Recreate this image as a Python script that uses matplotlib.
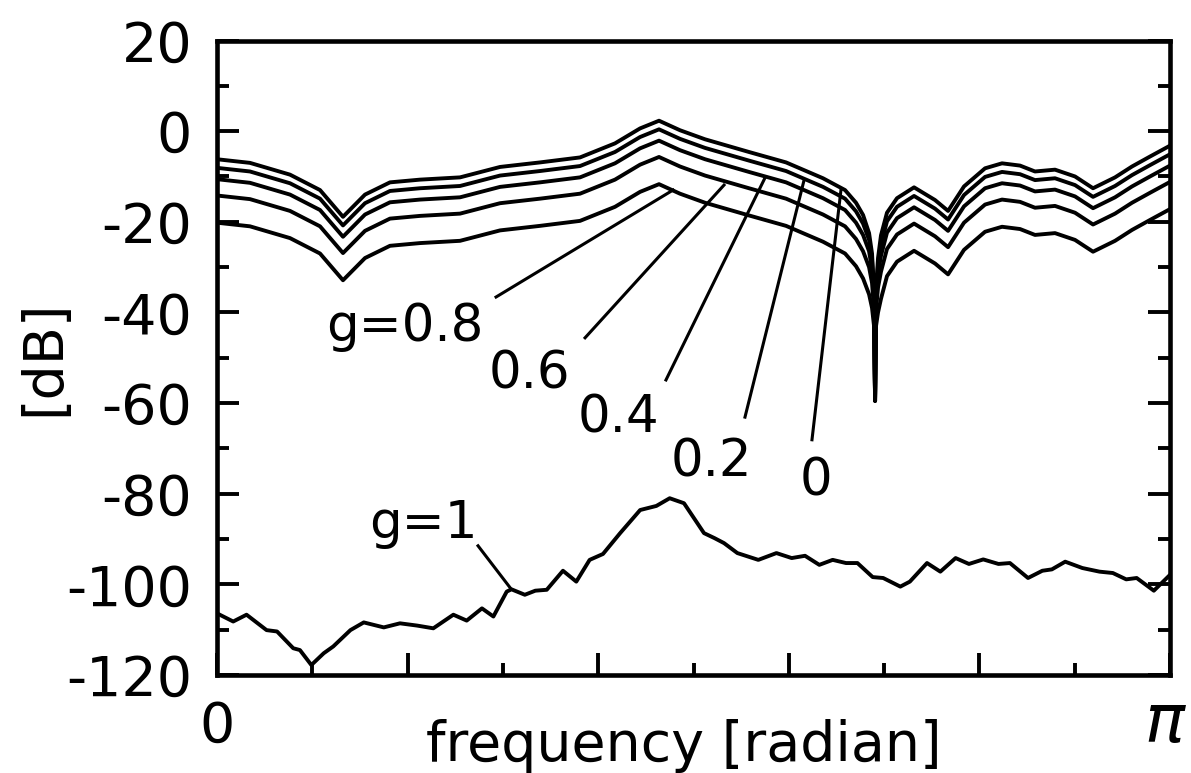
import numpy as np
import matplotlib
matplotlib.use('Agg')
import matplotlib.pyplot as plt
from matplotlib.ticker import MultipleLocator, FixedLocator
import matplotlib.transforms as mtransforms

plt.rcParams['font.family'] = ['DejaVu Sans']
plt.rcParams['axes.unicode_minus'] = False

# ---------------- data (frequency as fraction of pi, level in dB) ----------------
freq_upper = [0.0, 0.0346, 0.0766, 0.1081, 0.1322, 0.1553, 0.1815, 0.2130, 0.2550, 0.2970,
              0.3389, 0.3809, 0.4176, 0.4439, 0.4638, 0.4858, 0.5121, 0.5582, 0.5971, 0.6359,
              0.6590, 0.6705, 0.6779, 0.6842, 0.6873, 0.6894, 0.6905, 0.6915, 0.6936, 0.6967,
              0.7030, 0.7135, 0.7314, 0.7534, 0.7671, 0.7838, 0.8059, 0.8237, 0.8426, 0.8583,
              0.8793, 0.9003, 0.9192, 0.9423, 0.9601, 0.9790, 1.0]

db_g00 = [-6.2, -7.0, -9.6, -13.0, -18.9, -14.0, -11.3, -10.7, -10.2, -7.9,
          -6.9, -5.8, -2.7, 0.6, 2.3, 0.2, -1.8, -4.6, -6.9, -10.4,
          -13.0, -15.8, -18.5, -22.5, -27.0, -35.0, -59.5, -35.0, -28.0, -23.0,
          -18.0, -14.8, -12.4, -15.2, -17.6, -12.2, -8.2, -7.1, -7.6, -8.9,
          -8.5, -10.0, -12.6, -10.2, -7.8, -5.6, -3.2]

db_g02 = [-8.1, -8.9, -11.5, -14.9, -20.8, -15.9, -13.2, -12.6, -12.1, -9.8,
          -8.8, -7.7, -4.6, -1.3, 0.4, -1.7, -3.7, -6.5, -8.8, -12.3,
          -14.9, -17.7, -20.4, -24.0, -28.5, -36.0, -59.5, -36.0, -29.5, -25.0,
          -19.9, -16.7, -14.3, -17.1, -19.5, -14.1, -10.1, -9.0, -9.5, -10.8,
          -10.4, -11.9, -14.5, -12.1, -9.7, -7.5, -5.1]

db_g04 = [-10.6, -11.4, -14.0, -17.4, -23.3, -18.4, -15.7, -15.1, -14.6, -12.3,
          -11.3, -10.2, -7.1, -3.8, -2.1, -4.2, -6.2, -9.0, -11.3, -14.8,
          -17.4, -20.2, -22.9, -26.5, -30.5, -37.5, -59.5, -37.5, -31.5, -27.5,
          -22.4, -19.2, -16.8, -19.6, -22.0, -16.6, -12.6, -11.5, -12.0, -13.3,
          -12.9, -14.4, -17.0, -14.6, -12.2, -10.0, -7.6]

db_g06 = [-14.2, -15.0, -17.6, -21.0, -26.9, -22.0, -19.3, -18.7, -18.2, -15.9,
          -14.9, -13.8, -10.7, -7.4, -5.7, -7.8, -9.8, -12.6, -14.9, -18.4,
          -21.0, -23.8, -26.5, -30.0, -33.5, -39.5, -59.5, -39.5, -34.5, -31.0,
          -26.0, -22.8, -20.4, -23.2, -25.6, -20.2, -16.2, -15.1, -15.6, -16.9,
          -16.5, -18.0, -20.6, -18.2, -15.8, -13.6, -11.2]

db_g08 = [-20.2, -21.0, -23.6, -27.0, -32.9, -28.0, -25.3, -24.7, -24.2, -21.9,
          -20.9, -19.8, -16.7, -13.4, -11.7, -13.8, -15.8, -18.6, -20.9, -24.4,
          -27.0, -29.8, -32.5, -36.0, -39.0, -43.0, -59.5, -43.0, -40.0, -37.0,
          -32.0, -28.8, -26.4, -29.2, -31.6, -26.2, -22.2, -21.1, -21.6, -22.9,
          -22.5, -24.0, -26.6, -24.2, -21.8, -19.6, -17.2]

freq_g1 = [0.000, 0.017, 0.031, 0.052, 0.063, 0.080, 0.087, 0.099, 0.112, 0.122,
           0.140, 0.154, 0.175, 0.192, 0.210, 0.227, 0.248, 0.262, 0.278, 0.290,
           0.304, 0.309, 0.323, 0.334, 0.346, 0.363, 0.377, 0.391, 0.405, 0.423,
           0.444, 0.461, 0.475, 0.490, 0.511, 0.522, 0.532, 0.546, 0.568, 0.587,
           0.603, 0.617, 0.632, 0.646, 0.660, 0.672, 0.688, 0.699, 0.717, 0.727,
           0.745, 0.759, 0.775, 0.789, 0.804, 0.820, 0.832, 0.851, 0.866, 0.876,
           0.890, 0.908, 0.926, 0.940, 0.954, 0.965, 0.983, 1.000]

db_g1 = [-106.4, -108.2, -106.7, -110.1, -110.4, -114.1, -114.5, -117.8, -115.2, -113.7,
         -110.1, -108.4, -109.5, -108.6, -109.1, -109.7, -106.7, -108.0, -105.3, -107.1,
         -101.6, -101.1, -102.3, -101.4, -101.2, -97.0, -99.4, -94.6, -93.3, -88.7,
         -83.6, -82.7, -81.0, -82.1, -88.7, -89.8, -90.9, -93.1, -94.6, -93.1,
         -94.2, -93.7, -95.7, -94.6, -95.3, -95.3, -98.4, -98.6, -100.5, -99.4,
         -95.3, -97.2, -94.2, -95.5, -94.5, -95.5, -95.3, -98.6, -97.0, -96.7,
         -95.0, -96.4, -97.2, -97.5, -98.9, -98.6, -101.4, -97.9]

curve_labels = ['g=0.8', '0.6', '0.4', '0.2', '0', 'g=1']

xtick_fracs = [0.0, 0.2, 0.4, 0.6, 0.8, 1.0]
xtick_labels = ['0', '', '', '', '', 'π']
xminor_fracs = [0.1, 0.3, 0.5, 0.7, 0.9]

# ---------------- layout of labels (text anchor and leader line ends) ----------------
text_pos = [(0.1140, -46.4), (0.2845, -56.7), (0.3785, -66.6),
            (0.4755, -76.3), (0.6110, -80.3), (0.1595, -89.75)]
leader_start = [(0.2928, -36.6), (0.3862, -45.6), (0.4711, -54.9),
                (0.5540, -63.1), (0.6243, -68.1), (0.2739, -91.5)]
leader_end = [(0.4785, -13.0), (0.5320, -11.9), (0.5750, -10.3),
              (0.6160, -10.8), (0.6548, -12.8), (0.3085, -101.0)]

fig = plt.figure(figsize=(11.91, 7.73), dpi=100)
ax = fig.add_axes([0.1822, 0.1268, 0.8002, 0.8208])

x_up = np.pi * np.array(freq_upper)
for db in [db_g00, db_g02, db_g04, db_g06, db_g08]:
    ax.plot(x_up, db, color='black', lw=2.8, solid_joinstyle='round', solid_capstyle='round')
ax.plot(np.pi * np.array(freq_g1), db_g1, color='black', lw=2.8,
        solid_joinstyle='round', solid_capstyle='round')

for lab, tp, ls, le in zip(curve_labels, text_pos, leader_start, leader_end):
    ax.text(np.pi * tp[0], tp[1], lab, fontsize=37, ha='left', va='baseline')
    ax.plot([np.pi * ls[0], np.pi * le[0]], [ls[1], le[1]], color='black', lw=2.2)

ax.set_xlim(0, np.pi)
ax.set_ylim(-120, 20)
ax.set_xticks(np.pi * np.array(xtick_fracs))
ax.set_xticklabels(xtick_labels)
ax.xaxis.set_minor_locator(FixedLocator(np.pi * np.array(xminor_fracs)))
ax.yaxis.set_major_locator(MultipleLocator(20))
ax.yaxis.set_minor_locator(MultipleLocator(10))

ax.tick_params(which='both', direction='in', left=True, right=True, top=False, bottom=True,
               width=2.8, labelsize=40, pad=18, colors='black')
ax.tick_params(which='major', length=16)
ax.tick_params(which='minor', length=8.5)
for sp in ax.spines.values():
    sp.set_linewidth(3.3)
    sp.set_color('black')

# pi label: larger, italic, nudged up
pi_lab = ax.get_xticklabels()[-1]
pi_lab.set_fontsize(48)
pi_lab.set_fontstyle('italic')
pi_lab.set_transform(pi_lab.get_transform() +
                     mtransforms.ScaledTranslation(-4 / 72, 7 / 72, fig.dpi_scale_trans))

ax.set_xlabel('frequency [radian]', fontsize=40)
ax.xaxis.label.set_verticalalignment('bottom')
ax.xaxis.set_label_coords(0.490, -0.1545)
ax.set_ylabel('[dB]', fontsize=40)
ax.yaxis.label.set_verticalalignment('center')
ax.yaxis.set_label_coords(-0.1815, 0.5)

fig.savefig('out.png', dpi=100, facecolor='white')
